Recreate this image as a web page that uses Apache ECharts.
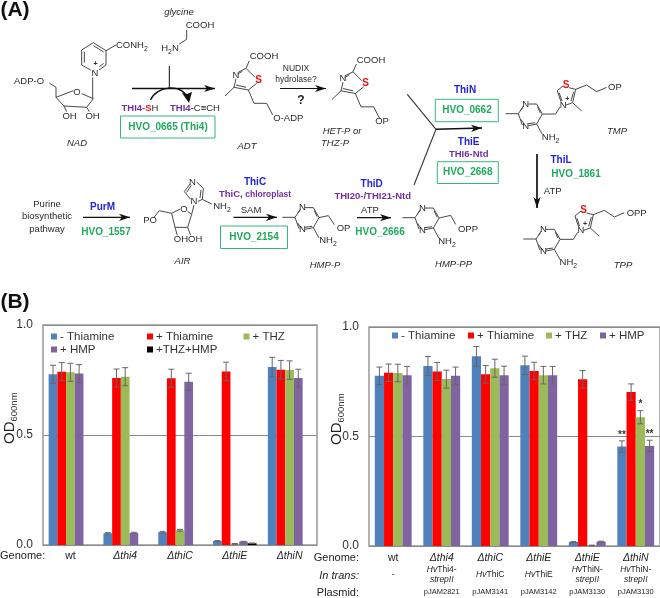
<!DOCTYPE html>
<html><head><meta charset="utf-8">
<style>html,body{margin:0;padding:0;background:#fff}#c{width:660px;height:598px}</style>
<script src="https://cdn.jsdelivr.net/npm/echarts@6/dist/echarts.min.js"></script>
</head><body><div id="c"></div>
<script>
// ---------- data ----------
const genomeLeft = ['wt','Δthi4','ΔthiC','ΔthiE','ΔthiN'];
const leftNoThiamine = [0.776,0.053,0.058,0.018,0.809];
const leftThiamine   = [0.788,0.759,0.758,0.789,0.797];
const leftTHZ        = [0.785,0.765,0.067,0.005,0.795];
const leftHMP        = [0.779,0.055,0.742,0.015,0.759];
const leftTHZHMP     = [null,null,null,0.008,null];
const leftErrNoThiamine = [0.041,0.003,0.004,0.002,0.044];
const leftErrThiamine   = [0.041,0.041,0.041,0.042,0.042];
const leftErrTHZ        = [0.041,0.041,0.004,0.002,0.042];
const leftErrHMP        = [0.041,0.003,0.039,0.002,0.040];
const leftErrTHZHMP     = [null,null,null,0.001,null];

const genomeRight  = ['wt','Δthi4','ΔthiC','ΔthiE','ΔthiE','ΔthiN'];
const transRight   = [['-'],['HvThi4-','strepII'],['HvThiC'],['HvThiE'],['HvThiN-','strepII'],['HvThiN-','strepII']];
const plasmidRight = ['','pJAM2821','pJAM3141','pJAM3142','pJAM3130','pJAM3130'];
const rightNoThiamine = [0.777,0.822,0.866,0.825,0.018,0.454];
const rightThiamine   = [0.791,0.797,0.784,0.799,0.761,0.703];
const rightTHZ        = [0.790,0.762,0.812,0.780,0.003,0.588];
const rightHMP        = [0.780,0.777,0.780,0.780,0.020,0.457];
const rightErrNoThiamine = [0.040,0.043,0.045,0.042,0.002,0.026];
const rightErrThiamine   = [0.040,0.041,0.040,0.040,0.040,0.037];
const rightErrTHZ        = [0.040,0.041,0.041,0.040,0.001,0.030];
const rightErrHMP        = [0.040,0.040,0.041,0.040,0.002,0.026];
const rightStarsNoThiamine = ['','','','','','**'];
const rightStarsTHZ        = ['','','','','','*'];
const rightStarsHMP        = ['','','','','','**'];
const names = ['- Thiamine','+ Thiamine','+ THZ','+ HMP','+THZ+HMP'];
const yTicks = [0,0.5,1];

// ---------- style ----------
const FONT = '"Liberation Sans", Arial, sans-serif';
const COL = ['#4f81bd','#ff0000','#9bbb59','#8064a2','#000000'];
const BLUE='#2323dc', PUR='#7030a0', GRN='#1faa5c', RED='#e8141c', INK='#2a2a2a';

// ---------- bar charts ----------
function errSeries(xIdx, vals, errs, stars, count, gapFrac){
  const rows=[];
  vals.forEach((arr,s)=>arr.forEach((v,c)=>{ if(v!=null) rows.push([c,v,errs[s][c],s,(stars[s]||[])[c]||'']); }));
  return {type:'custom',xAxisIndex:xIdx,yAxisIndex:xIdx,data:rows,encode:{x:0,y:1},z:5,silent:true,clip:false,
    renderItem(params,api){
      const band=api.size([1,0])[0], bw=band*(1-gapFrac)/count;
      const idx=api.value(3);
      const off=(idx-(count-1)/2)*bw;
      const p0=api.coord([api.value(0),api.value(1)]);
      const e=api.value(2);
      const up=api.coord([api.value(0),api.value(1)+e])[1], dn=api.coord([api.value(0),api.value(1)-e])[1];
      const x=p0[0]+off, ls={stroke:'#666',lineWidth:1};
      const kids=[
        {type:'line',shape:{x1:x,y1:up,x2:x,y2:dn},style:ls},
        {type:'line',shape:{x1:x-3,y1:up,x2:x+3,y2:up},style:ls},
        {type:'line',shape:{x1:x-3,y1:dn,x2:x+3,y2:dn},style:ls}];
      const star=api.value(4);
      if(star) kids.push({type:'text',style:{text:star,x:x,y:up-1,align:'center',verticalAlign:'bottom',font:'bold 10px '+FONT,fill:'#333'}});
      return {type:'group',children:kids};
    }};
}
function bars(xIdx,vals,gap){
  return vals.map((d,i)=>({name:names[i],type:'bar',xAxisIndex:xIdx,yAxisIndex:xIdx,data:d,barGap:'0%',barCategoryGap:gap,
    itemStyle:{color:COL[i]},silent:true}));
}
const leftVals=[leftNoThiamine,leftThiamine,leftTHZ,leftHMP,leftTHZHMP];
const leftErrs=[leftErrNoThiamine,leftErrThiamine,leftErrTHZ,leftErrHMP,leftErrTHZHMP];
const rightVals=[rightNoThiamine,rightThiamine,rightTHZ,rightHMP];
const rightErrs=[rightErrNoThiamine,rightErrThiamine,rightErrTHZ,rightErrHMP];
const rightStars=[rightStarsNoThiamine,[],rightStarsTHZ,rightStarsHMP];

const gridStyle={show:true,borderColor:'#999',borderWidth:1.5,backgroundColor:'transparent'};
const yAx=(g)=>({type:'value',gridIndex:g,min:0,max:1,interval:0.5,
  axisLine:{show:false},axisTick:{show:false},splitLine:{show:true,lineStyle:{color:'#8a8a8a',width:1}},
  axisLabel:{margin:10,fontFamily:FONT,fontSize:12,color:'#333',formatter:v=>v.toFixed(1)}});
const ital=(s)=>s==='wt'?'{r|'+s+'}':'{i|'+s+'}';

const legendPos=[
 ['- Thiamine',51,330.5],['+ Thiamine',147,330.5],['+ THZ',243.5,330.5],['+ HMP',51,343.5],['+THZ+HMP',147,343.5],
 ['- Thiamine',392,329.5],['+ Thiamine',468,329.5],['+ THZ',546,329.5],['+ HMP',600,329.5]];
const legends=legendPos.map(([n,l,t])=>({data:[n],left:l,top:t,itemWidth:6,itemHeight:6,itemGap:0,padding:0,icon:'rect',selectedMode:false,
  textStyle:{fontFamily:FONT,fontSize:11.5,color:'#333',padding:[0,0,0,-2]}}));

// ---------- scheme helpers ----------
const G=[];
const lw=0.9;
function poly(pts,ox,oy,o){ o=o||{};
  G.push({type:'polyline',silent:true,z:20,shape:{points:pts.map(p=>[ox+p[0]/3,oy+p[1]/3])},style:{stroke:o.c||'#333',lineWidth:o.w||lw,fill:null}});
}
function txt(s,x,y,o){ o=o||{};
  const size=o.s||9.5,col=o.c||INK,w=o.b?'bold':'normal',fs=o.i?'italic':'normal';
  const base={fontFamily:FONT,fontSize:size,fontWeight:w,fontStyle:fs,fill:col};
  const rich=Object.assign({d:Object.assign({},base,{lineHeight:size+2}),
    u:{fontFamily:FONT,fontSize:size*0.72,fill:col,verticalAlign:'bottom',lineHeight:size+5},
    R:Object.assign({},base,{fill:RED}),P:Object.assign({},base,{fill:PUR}),K:Object.assign({},base,{fill:INK,fontWeight:'normal'})},o.rich||{});
  const parts=/\{/.test(s)?s:'{d|'+s+'}';
  G.push({type:'text',silent:true,z:21,style:{text:parts,x:x,y:y,align:o.a||'center',verticalAlign:'middle',fontFamily:FONT,fontSize:size,fill:col,rich:rich}});
}
function box(x1,y1,x2,y2){G.push({type:'rect',silent:true,z:20,shape:{x:x1,y:y1,width:x2-x1,height:y2-y1},style:{stroke:'#35b97a',lineWidth:1,fill:null}});}
function arrow(x1,y1,x2,y2,w){
  G.push({type:'line',silent:true,z:20,shape:{x1,y1,x2,y2},style:{stroke:'#111',lineWidth:w||1.5}});
  const a=Math.atan2(y2-y1,x2-x1),c=Math.cos(a),s=Math.sin(a),L=11,H=3.6,N=8;
  const pt=(d,h)=>[x2-d*c-h*s,y2-d*s+h*c];
  G.push({type:'polygon',silent:true,z:20,shape:{points:[[x2,y2],pt(L,H),pt(N,0),pt(L,-H)]},style:{fill:'#111'}});
}
function pyrimidine(ox,oy){
  poly([[-38,0],[0,0],[14,-20]],ox,oy);
  poly([[30,-29],[55,-29],[72,1],[55,31],[30,36]],ox,oy);
  poly([[12,34],[0,0]],ox,oy);
  poly([[8,-12],[16,-24]],ox,oy);poly([[58,-20],[66,-2]],ox,oy);poly([[16,29],[8,17]],ox,oy);poly([[30,30],[51,27]],ox,oy);
  txt('N',ox+22/3,oy-29/3);txt('N',ox+22/3,oy+37/3);
}
function thiazolium(ox,oy){
  poly([[-7,-10],[-18,-43],[0,-58]],ox,oy);poly([[17,-52],[37,-47],[28,-7],[8,0]],ox,oy);
  poly([[-12,-36],[-4,-12]],ox,oy);poly([[31,-40],[23,-12]],ox,oy);
  poly([[28,-7],[55,18]],ox,oy);
  txt('N',ox,oy);txt('+',ox+4,oy-6,{s:7,b:true});txt('S',ox+8/3,oy-60/3,{c:RED,b:true,s:10});
}
const H2='NH{u|2}';

// ---------- panel A ----------
txt('(A)',15,10,{s:21,rich:{d:{fontFamily:FONT,fontSize:21,fontWeight:'bold',fill:'#111',lineHeight:24}}});
txt('(B)',15,302,{s:21,rich:{d:{fontFamily:FONT,fontSize:21,fontWeight:'bold',fill:'#111',lineHeight:24}}});
// NAD
poly([[280,128],[318,152],[318,195],[297,210]],0,0);poly([[272,210],[245,195],[245,150],[280,128]],0,0);
poly([[253,188],[253,155]],0,0);poly([[280,137],[311,156]],0,0);poly([[311,190],[298,200]],0,0);
poly([[318,152],[348,135]],0,0);
txt('CONH{u|2}',116,45,{a:'left'});
txt('N',95,73);txt('+',95.5,64.5,{s:7,b:true});
poly([[278,232],[278,295]],0,0);
poly([[168,292],[220,272]],0,0);poly([[245,281],[280,296],[260,322],[192,318],[168,292]],0,0);
poly([[192,318],[200,335]],0,0);poly([[260,322],[268,335]],0,0);poly([[168,292],[168,262],[148,249]],0,0);
txt('O',77,92);txt('OH',69.5,116);txt('OH',92.5,116);txt('ADP-O',14,81.5,{a:'left'});
const itR={d:{fontFamily:FONT,fontSize:9.5,fontStyle:'italic',fill:INK}};
txt('NAD',77,143,{rich:itR});
// glycine + THI4
txt('glycine',179,12,{rich:itR});
txt('COOH',200,25);poly([[560,90],[560,118],[538,132]],0,0);txt('H{u|2}{d|N}',170,48);
poly([[508,198],[508,265]],0,0,{w:1.1,c:'#222'});
arrow(132,88.5,215,88.5,1.5);
G.push({type:'bezierCurve',silent:true,z:20,shape:{x1:150.5,y1:100,cpx1:156,cpy1:87,cpx2:180,cpy2:82,x2:188,y2:98},style:{stroke:'#111',lineWidth:1.4,fill:null}});
G.push({type:'polygon',silent:true,z:20,shape:{points:[[189,103],[182,93],[187,94],[192,92]]},style:{fill:'#111'}});
const bP={fontFamily:FONT,fontSize:9.5,fontWeight:'bold',fill:PUR},bR={fontFamily:FONT,fontSize:9.5,fontWeight:'bold',fill:RED},nK={fontFamily:FONT,fontSize:9.5,fill:INK};
txt('{p|THI4-}{r|S}{k|H}',140,108,{rich:{p:bP,r:bR,k:nK}});
txt('{p|THI4-}{k|C≡CH}',195,108,{rich:{p:bP,k:nK}});
box(120.5,116,215,138);
txt('HVO_0665 (Thi4)',168,127.5,{rich:{d:{fontFamily:FONT,fontSize:10,fontWeight:'bold',fill:GRN}}});
// thiazole acids
function thiazole(ox,oy,tail){
  poly([[738,205],[716,216]],ox,oy);poly([[738,205],[765,232]],ox,oy);poly([[770,250],[745,270],[702,262],[708,236]],ox,oy);
  poly([[727,214],[713,222]],ox,oy);poly([[738,262],[708,255]],ox,oy);
  poly([[738,205],[748,182]],ox,oy);poly([[702,262],[675,288]],ox,oy);
  poly([[745,270],[762,310],[800,310],[818,345]],ox,oy);
  txt('N',ox+708/3,oy+226/3);txt('S',ox+776/3,oy+240/3,{rich:{d:{fontFamily:FONT,fontSize:10,fontWeight:'bold',fill:RED}}});
  txt('COOH',ox+792/3,oy+170/3);
  txt(tail,ox+(tail==='OP'?825:865)/3,oy+354/3);
}
thiazole(0,0,'O-ADP');
txt('ADT',247,146.5,{rich:itR});
arrow(280,88.5,326,88.5,1.2);
txt('NUDIX',296,69,{s:8.5});txt('hydrolase?',296,80,{s:8.5});
txt('?',301,101,{rich:{d:{fontFamily:FONT,fontSize:12,fontWeight:'bold',fill:'#222'}}});
thiazole(107,3.5,'OP');
txt('HET-P or',342,131,{rich:itR});txt('THZ-P',321,143,{a:'left',rich:itR});
// Y junction
poly([[0,0],[86,105]],407.3,94.3,{w:1.1});
G.push({type:'line',silent:true,z:20,shape:{x1:436,y1:129.3,x2:414,y2:185},style:{stroke:'#333',lineWidth:1.1}});
arrow(436,129.3,482,128,1.6);
const bB={d:{fontFamily:FONT,fontSize:10,fontWeight:'bold',fill:BLUE}};
const gB={d:{fontFamily:FONT,fontSize:10,fontWeight:'bold',fill:GRN}};
txt('ThiN',465,90,{rich:bB});
box(435.3,99.3,498.3,121.7);
txt('HVO_0662',467,110.5,{rich:gB});
txt('ThiE',468.7,142.3,{rich:bB});
txt('THI6-Ntd',468.7,154.3,{rich:{d:bP}});
box(437.3,161.7,498.3,183.5);txt('HVO_2668',467.7,172.7,{rich:gB});
// TMP
function thiamineLike(ox,oy,tail,tx){
  pyrimidine(ox,oy);
  poly([[72,1],[112,1],[125,-20]],ox,oy);
  poly([[55,31],[72,62]],ox,oy);txt(H2,ox+97/3,oy+71/3);
  thiazolium(ox+135/3,oy-26/3);
  poly([[172,-73],[205,-86],[235,-66],[265,-79]],ox,oy);
  txt(tail,ox+tx/3,oy-78/3);
}
thiamineLike(518.3,113.7,'OP',290);
txt('TMP',617,131,{rich:itR});
// ThiL
arrow(537,154,537,208,1.7);
txt('ThiL',561,160.7,{rich:bB});txt('HVO_1861',576,174,{rich:gB});txt('ATP',552.7,191.7);
// TPP
thiamineLike(536,239,'OPP',302);
txt('TPP',623,265.7,{rich:itR});
// Purine
txt('Purine',47,204.5);txt('biosynthetic',47,216.5);txt('pathway',47,229);
arrow(83,217.3,130,217.3,1.3);
txt('PurM',102.5,207.5,{rich:bB});txt('HVO_1557',106,232.5,{rich:gB});
// AIR
poly([[540,117],[515,130],[525,172],[563,172],[575,133],[563,124]],0,170);
poly([[515,130],[478,122],[462,142]],0,170);
poly([[525,172],[532,196]],0,170);poly([[563,172],[572,196]],0,170);
poly([[575,133],[582,105]],0,170);poly([[572,88],[553,65],[570,42]],0,170);poly([[590,36],[610,55],[607,88],[594,94]],0,170);
poly([[560,67],[574,46]],0,170);poly([[603,60],[600,84]],0,170);poly([[607,88],[635,102]],0,170);
txt('O',184,209);txt('N',194,201.5);txt('N',192.5,182);
txt(H2,222,206.5);txt('PO',150,220.5);txt('OHOH',188,239.5);
txt('AIR',182.5,261.5,{rich:itR});
txt('ThiC',255,182,{rich:bB});
txt('{p|ThiC, }{q|chloroplast}',255,194.5,{rich:{p:bP,q:{fontFamily:FONT,fontSize:8.5,fontWeight:'bold',fill:PUR}}});
txt('SAM',251,210);arrow(233.5,217.3,277,217.3,1.3);
box(220.5,226,287.5,248.5);txt('HVO_2154',254,237.5,{rich:gB});
// HMP-P
pyrimidine(295,217.3);
poly([[72,1],[100,-5],[118,22]],295,217.3);poly([[55,31],[72,62]],295,217.3);
txt(H2,328,240);txt('OP',343.5,228);
txt('HMP-P',325,265,{rich:itR});
// ThiD
txt('ThiD',371.7,184,{rich:bB});txt('THI20-/THI21-Ntd',372.7,196,{rich:{d:bP}});
txt('ATP',370,210.5);arrow(357,217.7,391,217.7,1.3);
txt('HVO_2666',380,232,{rich:gB});
// HMP-PP
pyrimidine(415,217.7);
poly([[72,1],[107,-7],[122,20]],415,217.7);poly([[55,31],[72,62]],415,217.7);
txt(H2,447,241);txt('OPP',468,229.5);
txt('HMP-PP',453.5,264.5,{rich:itR});

// ---------- panel B row labels ----------
function odLabel(x,y){G.push({type:'text',silent:true,z:21,rotation:Math.PI/2,x:x,y:y,style:{text:'{a|OD}{b|600nm}',align:'left',verticalAlign:'middle',
  rich:{a:{fontFamily:FONT,fontSize:15,fill:'#222',lineHeight:18},b:{fontFamily:FONT,fontSize:9.5,fill:'#333',verticalAlign:'bottom',lineHeight:18}}}});}
odLabel(10,444);odLabel(337,445);
txt('Genome:',0,556,{a:'left',rich:{d:{fontFamily:FONT,fontSize:11,fill:'#222'}}});
txt('Genome:',359,558,{a:'right',rich:{d:{fontFamily:FONT,fontSize:11,fill:'#222'}}});
txt('In trans:',359,576,{a:'right',rich:{d:{fontFamily:FONT,fontSize:11,fontStyle:'italic',fill:'#222'}}});
txt('Plasmid:',359,593,{a:'right',rich:{d:{fontFamily:FONT,fontSize:11,fill:'#222'}}});

// ---------- option ----------
function rightLabel(v,i){
  const t=transRight[i];
  const fmt=(s,style)=>s.startsWith('Hv')?'{'+style+'i|Hv}{'+style+'|'+s.slice(2)+'}':(s==='strepII'?'{'+style+'i|'+s+'}':'{'+style+'|'+s+'}');
  const mid=t.length===2?fmt(t[0],'t')+'\n'+fmt(t[1],'t'):fmt(t[0],'o');
  return (v==='wt'?'{gr|wt}':'{g|'+v+'}')+'\n'+mid+'\n{p|'+(plasmidRight[i]||' ')+'}';
}
const lab=(o)=>Object.assign({fontFamily:FONT,color:'#222',align:'center'},o);
const option={
  animation:false,backgroundColor:'#fff',tooltip:{show:false},
  legend:legends,
  grid:[Object.assign({left:43,top:325,width:274,height:220},gridStyle),Object.assign({left:369,top:327,width:291,height:219},gridStyle)],
  xAxis:[
   {type:'category',gridIndex:0,data:genomeLeft,axisLine:{show:false},axisTick:{show:false},
    axisLabel:{interval:0,margin:5,formatter:ital,rich:{r:lab({fontSize:10.5,lineHeight:13}),i:lab({fontSize:10.5,fontStyle:'italic',lineHeight:13})}}},
   {type:'category',gridIndex:1,data:genomeRight,axisLine:{show:false},axisTick:{show:false},
    axisLabel:{interval:0,margin:6,formatter:rightLabel,rich:{
      g:lab({fontSize:10.5,fontStyle:'italic',lineHeight:13}),gr:lab({fontSize:10.5,lineHeight:13}),
      t:lab({fontSize:8.5,lineHeight:10}),ti:lab({fontSize:8.5,fontStyle:'italic',lineHeight:10}),
      o:lab({fontSize:8.5,lineHeight:20}),oi:lab({fontSize:8.5,fontStyle:'italic',lineHeight:20}),
      p:lab({fontSize:7.5,lineHeight:14})}}}
  ],
  yAxis:[yAx(0),yAx(1)],
  series:[].concat(
    bars(0,leftVals,'20.6%'),[errSeries(0,leftVals,leftErrs,[],5,0.206)],
    bars(1,rightVals,'24%'),[errSeries(1,rightVals,rightErrs,rightStars,4,0.24)]),
  graphic:{elements:G}
};
const chart=echarts.init(document.getElementById('c'),null,{renderer:'canvas'});
chart.setOption(option);
</script></body></html>
